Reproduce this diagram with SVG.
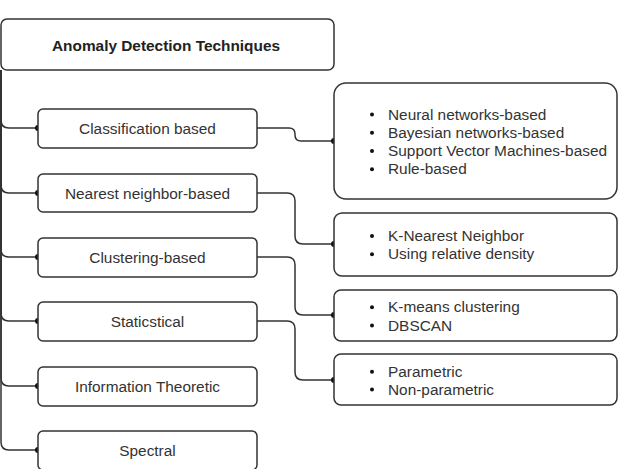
<svg xmlns="http://www.w3.org/2000/svg" width="620" height="469" viewBox="0 0 620 469">
  <style>
    .box { fill: #ffffff; stroke: #333333; stroke-width: 1.5; }
    .lbl { font-family: "Liberation Sans", Arial, sans-serif; font-size: 15.4px; fill: #333333; text-anchor: middle; }
    .ttl { font-weight: bold; fill: #222222; }
    .itm { font-family: "Liberation Sans", Arial, sans-serif; font-size: 15.4px; fill: #333333; }
    .wire { fill: none; stroke: #333333; stroke-width: 1.5; }
    .dot { fill: #111111; }
  </style>
  <rect width="620" height="469" fill="#ffffff"/>

  <!-- connectors: left trunk to categories, categories to detail lists -->
  <g id="connectors">
    <path class="wire" d="M1,70 V120 Q1,128 9,128 H38"/>
    <path class="wire" d="M1,70 V185 Q1,193 9,193 H38"/>
    <path class="wire" d="M1,70 V249 Q1,257 9,257 H38"/>
    <path class="wire" d="M1,70 V313 Q1,321 9,321 H38"/>
    <path class="wire" d="M1,70 V378 Q1,386 9,386 H38"/>
    <path class="wire" d="M1,70 V442 Q1,450 9,450 H38"/>
    <path class="wire" d="M257,128 H289 Q295,128 295,134 V135 Q295,141 301,141 H334"/>
    <path class="wire" d="M257,193 H287 Q295,193 295,201 V236 Q295,244 303,244 H334"/>
    <path class="wire" d="M257,257 H287 Q295,257 295,265 V307 Q295,315 303,315 H334"/>
    <path class="wire" d="M257,321 H287 Q295,321 295,329 V372 Q295,380 303,380 H334"/>
    <circle class="dot" cx="38" cy="128" r="3"/>
    <circle class="dot" cx="38" cy="193" r="3"/>
    <circle class="dot" cx="38" cy="257" r="3"/>
    <circle class="dot" cx="38" cy="321" r="3"/>
    <circle class="dot" cx="38" cy="386" r="3"/>
    <circle class="dot" cx="38" cy="450" r="3"/>
    <circle class="dot" cx="334" cy="141" r="3"/>
    <circle class="dot" cx="334" cy="244" r="3"/>
    <circle class="dot" cx="334" cy="315" r="3"/>
    <circle class="dot" cx="334" cy="380" r="3"/>
  </g>

  <g id="root">
    <rect class="box" x="1" y="19" width="333" height="51" rx="6"/>
    <text class="lbl ttl" x="166" y="50.5">Anomaly Detection Techniques</text>
  </g>

  <g id="classification">
    <rect class="box" x="38" y="109" width="219" height="39" rx="5"/>
    <text class="lbl" x="147.5" y="134">Classification based</text>
  </g>
  <g id="nearest-neighbor">
    <rect class="box" x="38" y="174" width="219" height="38" rx="5"/>
    <text class="lbl" x="147.5" y="198.5">Nearest neighbor-based</text>
  </g>
  <g id="clustering">
    <rect class="box" x="38" y="238" width="219" height="39" rx="5"/>
    <text class="lbl" x="147.5" y="263">Clustering-based</text>
  </g>
  <g id="statistical">
    <rect class="box" x="38" y="302" width="219" height="39" rx="5"/>
    <text class="lbl" x="147.5" y="327">Staticstical</text>
  </g>
  <g id="information-theoretic">
    <rect class="box" x="38" y="367" width="219" height="39" rx="5"/>
    <text class="lbl" x="147.5" y="392">Information Theoretic</text>
  </g>
  <g id="spectral">
    <rect class="box" x="38" y="431" width="219" height="39" rx="5"/>
    <text class="lbl" x="147.5" y="456">Spectral</text>
  </g>

  <g id="classification-list">
    <rect class="box" x="334" y="83" width="283" height="116" rx="12"/>
    <g class="itm">
      <circle class="dot" cx="372" cy="114.5" r="2"/><text x="388" y="119.5">Neural networks-based</text>
      <circle class="dot" cx="372" cy="132.8" r="2"/><text x="388" y="137.8">Bayesian networks-based</text>
      <circle class="dot" cx="372" cy="151" r="2"/><text x="388" y="156">Support Vector Machines-based</text>
      <circle class="dot" cx="372" cy="169.3" r="2"/><text x="388" y="174.3">Rule-based</text>
    </g>
  </g>
  <g id="nearest-neighbor-list">
    <rect class="box" x="334" y="213" width="283" height="63" rx="8"/>
    <g class="itm">
      <circle class="dot" cx="372" cy="236" r="2"/><text x="388" y="241">K-Nearest Neighbor</text>
      <circle class="dot" cx="372" cy="254.3" r="2"/><text x="388" y="259.3">Using relative density</text>
    </g>
  </g>
  <g id="clustering-list">
    <rect class="box" x="334" y="290" width="283" height="51" rx="7"/>
    <g class="itm">
      <circle class="dot" cx="372" cy="307.3" r="2"/><text x="388" y="312.3">K-means clustering</text>
      <circle class="dot" cx="372" cy="325.5" r="2"/><text x="388" y="330.5">DBSCAN</text>
    </g>
  </g>
  <g id="statistical-list">
    <rect class="box" x="334" y="354" width="283" height="51" rx="7"/>
    <g class="itm">
      <circle class="dot" cx="372" cy="371.7" r="2"/><text x="388" y="376.7">Parametric</text>
      <circle class="dot" cx="372" cy="389.5" r="2"/><text x="388" y="394.5">Non-parametric</text>
    </g>
  </g>
</svg>
